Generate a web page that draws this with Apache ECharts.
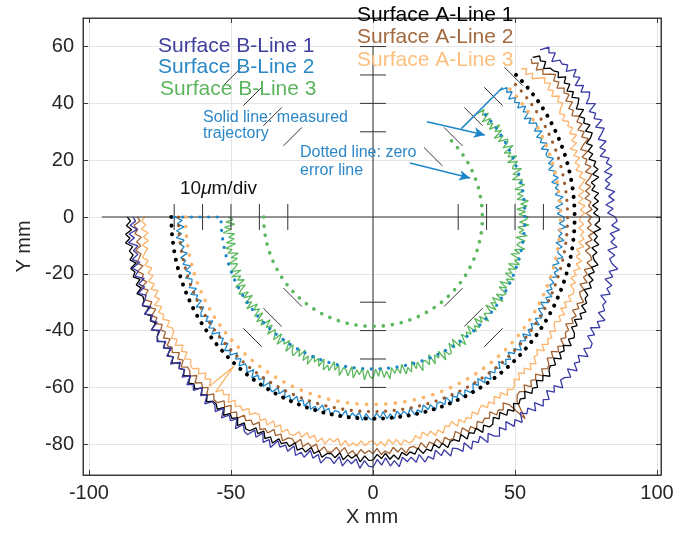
<!DOCTYPE html>
<html>
<head>
<meta charset="utf-8">
<script src="https://cdn.jsdelivr.net/npm/echarts@6/dist/echarts.min.js"></script>
<style>
html,body{margin:0;padding:0;background:#fff}
#c{width:679px;height:534px}
</style>
</head>
<body>
<div id="c"></div>
<script>
// Cartesian frame (mm), equal scale on both axes
const xMin = -102.1, xMax = 101.4, yMin = -90.85, yMax = 70.07;
const xTicks = [-100, -50, 0, 50, 100];
const yTicks = [-80, -60, -40, -20, 0, 20, 40, 60];

// Polar sampling angles in degrees (counter-clockwise from +X): west, round the bottom, up to north-east
const angles = [];
for (let a = -180; a <= 45; a += 1) angles.push(a);

// Measured trajectories: plotted radius (mm) at each angle
const rA1 = [
86.5,85.4,86.9,85.1,87.3,85.9,87.6,85.3,86.6,85.5,
86.9,85.0,87.2,86.0,87.0,84.9,86.7,85.4,87.4,85.7,
85.8,87.0,85.0,87.3,85.5,86.5,85.1,87.5,85.4,86.9,
87.4,85.4,86.9,85.1,87.3,85.9,87.6,85.3,86.6,85.5,
87.1,85.2,87.4,86.2,87.2,85.1,86.9,85.6,87.6,85.9,
85.9,87.1,85.1,87.4,85.6,86.6,85.2,87.6,85.5,87.0,
86.9,84.9,86.4,84.6,86.8,85.4,87.1,84.8,86.1,85.0,
86.0,84.1,86.3,85.1,86.1,84.0,85.8,84.5,86.5,84.8,
84.6,85.8,83.8,86.1,84.3,85.3,83.9,86.3,84.2,85.7,
85.6,83.6,85.1,83.3,85.5,84.1,85.8,83.5,84.8,83.7,
84.8,82.9,85.1,83.9,84.9,82.8,84.6,83.3,85.3,83.6,
83.4,84.6,82.6,84.9,83.1,84.1,82.7,85.1,83.0,84.5,
84.3,82.3,83.8,82.0,84.2,82.8,84.5,82.2,83.5,82.4,
83.3,81.4,83.6,82.4,83.4,81.3,83.1,81.8,83.8,82.1,
81.5,82.7,80.7,83.0,81.2,82.2,80.8,83.2,81.1,82.6,
81.9,79.9,81.4,79.6,81.8,80.4,82.1,79.8,81.1,80.0,
80.5,78.6,80.8,79.6,80.6,78.5,80.3,79.0,81.0,79.3,
78.6,79.8,77.8,80.1,78.3,79.3,77.9,80.3,78.2,79.7,
79.7,77.7,79.2,77.4,79.6,78.2,79.9,77.6,78.9,77.8,
80.7,78.8,81.0,79.8,80.8,78.7,80.5,79.2,81.2,79.5,
81.5,82.7,80.7,83.0,81.2,82.2,80.8,83.2,81.1,82.6,
83.7,81.7,83.2,81.4,83.6,82.2,83.9,81.6,82.9,81.8,
81.5,79.6,81.8,80.6,81.6,79.5];
const rA2 = [
83.0,82.0,84.2,83.0,84.0,81.9,83.7,82.4,84.4,82.7,
83.6,84.8,82.8,85.1,83.3,84.3,82.9,85.3,83.2,84.7,
85.4,83.4,84.9,83.1,85.3,83.9,85.6,83.3,84.6,83.5,
85.2,83.3,85.5,84.3,85.3,83.2,85.0,83.7,85.7,84.0,
84.2,85.4,83.4,85.7,83.9,84.9,83.5,85.9,83.8,85.3,
85.3,83.3,84.8,83.0,85.2,83.8,85.5,83.2,84.5,83.4,
84.5,82.6,84.8,83.6,84.6,82.5,84.3,83.0,85.0,83.3,
83.1,84.3,82.3,84.6,82.8,83.8,82.4,84.8,82.7,84.2,
84.1,82.1,83.6,81.8,84.0,82.6,84.3,82.0,83.3,82.2,
83.4,81.5,83.7,82.5,83.5,81.4,83.2,81.9,83.9,82.2,
82.0,83.2,81.2,83.5,81.7,82.7,81.3,83.7,81.6,83.1,
82.9,80.9,82.4,80.6,82.8,81.4,83.1,80.8,82.1,81.0,
81.9,80.0,82.2,81.0,82.0,79.9,81.7,89.0,82.4,80.7,
80.3,81.5,79.5,81.8,80.0,81.0,79.6,82.0,79.9,81.4,
80.9,78.9,80.4,78.6,80.8,79.4,81.1,78.8,80.1,79.0,
79.5,77.6,79.8,78.6,79.6,77.5,79.3,78.0,80.0,78.3,
77.4,78.6,76.6,78.9,77.1,78.1,76.7,79.1,77.0,78.5,
77.7,75.7,77.2,75.4,77.6,76.2,77.9,75.6,76.9,75.8,
76.9,75.0,77.2,76.0,77.0,74.9,76.7,75.4,77.4,75.7,
77.3,78.5,76.5,78.8,77.0,78.0,76.6,79.0,76.9,78.4,
80.7,78.7,80.2,78.4,80.6,79.2,80.9,78.6,79.9,78.8,
81.1,79.2,81.4,80.2,81.2,79.1,80.9,79.6,81.6,79.9,
78.1,79.3,77.3,79.6,77.8,78.8];
const rA3 = [
80.3,81.5,80.0,81.7,79.4,81.1,79.6,81.8,80.1,81.4,
82.4,80.6,82.1,79.9,81.6,80.2,82.3,80.5,82.2,80.0,
81.9,80.5,82.9,80.8,82.6,81.3,82.3,80.4,82.1,80.7,
81.0,82.8,81.3,83.0,80.7,82.4,80.9,83.1,81.4,82.7,
83.0,81.2,82.7,80.5,82.2,80.8,82.9,71.8,82.8,80.6,
81.8,80.4,82.8,80.7,82.5,81.2,82.2,80.3,82.0,80.6,
80.2,82.0,80.5,82.2,79.9,81.6,80.1,82.3,80.6,81.9,
81.8,80.0,81.5,79.3,81.0,79.6,81.7,79.9,81.6,79.4,
80.4,79.0,81.4,79.3,81.1,79.8,80.8,78.9,80.6,79.2,
78.8,80.6,79.1,80.8,78.5,80.2,78.7,80.9,79.2,80.5,
80.2,78.4,79.9,77.7,79.4,78.0,80.1,78.3,80.0,77.8,
78.5,77.1,79.5,77.4,79.2,77.9,78.9,77.0,78.7,77.3,
76.5,78.3,76.8,78.5,76.2,77.9,76.4,78.6,76.9,78.2,
77.5,75.7,77.2,75.0,76.7,75.3,77.4,75.6,77.3,75.1,
75.6,74.2,76.6,74.5,76.3,75.0,76.0,74.1,75.8,74.4,
73.8,75.6,74.1,75.8,73.5,75.2,73.7,75.9,74.2,75.5,
75.3,73.5,75.0,72.8,74.5,73.1,75.2,73.4,75.1,72.9,
74.0,72.6,75.0,72.9,74.7,73.4,74.4,72.5,74.2,72.8,
72.8,74.6,73.1,74.8,72.5,74.2,72.7,74.9,73.2,74.5,
75.8,74.0,75.5,73.3,75.0,73.6,75.7,73.9,75.6,73.4,
76.3,74.9,77.3,75.2,77.0,75.7,76.7,74.8,76.5,75.1,
76.2,78.0,76.5,78.2,75.9,77.6,76.1,78.3,76.6,77.9,
76.0,74.2,75.7,73.5,75.2,73.8];
const rB1 = [
84.5,83.6,85.6,83.1,86.1,84.3,86.6,83.4,85.2,83.8,
86.1,83.6,86.6,84.9,86.3,83.4,85.8,84.1,86.9,84.5,
85.4,87.0,84.3,87.4,85.0,86.3,84.5,87.7,84.9,86.8,
87.8,85.1,87.1,84.6,87.6,85.8,88.1,84.9,86.7,85.3,
87.7,85.2,88.2,86.5,87.9,85.0,87.4,85.7,88.5,86.1,
86.6,88.2,85.5,88.6,86.2,87.5,85.7,88.9,86.1,88.0,
88.5,85.8,87.8,85.3,88.3,86.5,88.8,85.6,87.4,86.0,
87.8,85.3,88.3,86.6,88.0,85.1,87.5,85.8,88.6,86.2,
86.3,87.9,85.2,88.3,85.9,87.2,85.4,88.6,85.8,87.7,
88.1,85.4,87.4,84.9,87.9,86.1,88.4,85.2,87.0,85.6,
87.7,85.2,88.2,86.5,87.9,85.0,87.4,85.7,88.5,86.1,
86.8,88.4,85.7,88.8,86.4,87.7,85.9,89.1,86.3,88.2,
89.1,86.4,88.4,85.9,88.9,87.1,89.4,86.2,88.0,86.6,
89.1,86.6,89.6,87.9,89.3,86.4,88.8,87.1,89.9,87.5,
88.0,89.6,86.9,90.0,87.6,88.9,87.1,90.3,87.5,89.4,
89.1,86.4,88.4,85.9,88.9,87.1,89.4,86.2,88.0,86.6,
87.3,84.8,87.8,86.1,87.5,84.6,87.0,85.3,88.1,85.7,
84.6,86.2,83.5,86.6,84.2,85.5,83.7,86.9,84.1,86.0,
85.3,82.6,84.6,82.1,85.1,83.3,85.6,82.4,84.2,82.8,
85.5,83.0,86.0,84.3,85.7,82.8,85.2,83.5,86.3,83.9,
85.6,87.2,84.5,87.6,85.2,86.5,84.7,87.9,85.1,87.0,
88.1,85.4,87.4,84.9,87.9,86.1,88.4,85.2,87.0,85.6,
85.9,83.4,86.4,84.7,86.1,83.2];
const rB2 = [
69.7,67.2,68.9,66.7,69.3,67.7,69.6,67.0,68.6,67.3,
68.8,66.6,69.2,67.7,68.9,66.5,68.5,67.1,69.4,67.4,
67.9,69.3,67.0,69.7,67.6,68.7,67.2,69.9,67.5,69.2,
70.0,67.7,69.4,67.2,69.8,68.2,70.1,67.5,69.1,67.8,
69.9,67.7,70.3,68.8,70.0,67.6,69.6,68.2,70.5,68.5,
69.1,70.5,68.2,70.9,68.8,69.9,68.4,71.1,68.7,70.4,
71.1,68.8,70.5,68.3,70.9,69.3,71.2,68.6,70.2,68.9,
70.8,68.6,71.2,69.7,70.9,68.5,70.5,69.1,71.4,69.4,
69.7,71.1,68.8,71.5,69.4,70.5,69.0,71.7,69.3,71.0,
71.4,69.1,70.8,68.6,71.2,69.6,71.5,68.9,70.5,69.2,
70.8,68.6,71.2,69.7,70.9,68.5,70.5,69.1,71.4,69.4,
69.3,70.7,68.4,71.1,69.0,70.1,68.6,71.3,68.9,70.6,
70.6,68.3,70.0,67.8,70.4,68.8,70.7,68.1,69.7,68.4,
69.6,67.4,70.0,68.5,69.7,67.3,69.3,67.9,70.2,68.2,
67.8,69.2,66.9,69.6,67.5,68.6,67.1,69.8,67.4,69.1,
68.9,66.6,68.3,66.1,68.7,67.1,69.0,66.4,68.0,66.7,
67.8,65.6,68.2,66.7,67.9,65.5,67.5,66.1,68.4,66.4,
66.0,67.4,65.1,67.8,65.7,66.8,65.3,68.0,65.6,67.3,
67.2,64.9,66.6,64.4,67.0,65.4,67.3,64.7,66.3,65.0,
66.3,64.1,66.7,65.2,66.4,64.0,66.0,64.6,66.9,64.9,
64.8,66.2,63.9,66.6,64.5,65.6,64.1,66.8,64.4,66.1,
66.3,64.0,65.7,63.5,66.1,64.5,66.4,63.8,65.4,64.1,
65.5,63.3,65.9,64.4,65.6,63.2];
const rB3 = [
51.0,49.3,51.8,48.7,52.4,50.2,53.0,49.1,51.3,49.5,
52.4,49.3,53.0,50.9,52.7,49.1,52.0,49.9,53.4,50.4,
51.5,53.5,50.1,54.0,51.0,52.6,50.4,54.3,50.9,53.2,
54.5,51.2,53.7,50.6,54.3,52.1,54.9,51.0,53.2,51.4,
54.5,51.4,55.1,53.0,54.8,51.2,54.1,52.0,55.5,52.5,
53.6,55.6,52.2,56.1,53.1,54.7,52.5,56.4,53.0,55.3,
56.4,53.1,55.6,52.5,56.2,54.0,56.8,52.9,55.1,53.3,
56.0,52.9,56.6,54.5,56.3,52.7,55.6,53.5,57.0,54.0,
54.6,56.6,53.2,57.1,54.1,55.7,53.5,57.4,54.0,56.3,
56.9,53.6,56.1,53.0,56.7,54.5,57.3,53.4,55.6,53.8,
55.9,52.8,56.5,54.4,56.2,52.6,55.5,53.4,56.9,53.9,
53.7,55.7,52.3,56.2,53.2,54.8,52.6,56.5,53.1,55.4,
55.2,51.9,54.4,51.3,55.0,52.8,55.6,51.7,53.9,52.1,
53.8,50.7,54.4,52.3,54.1,50.5,53.4,51.3,54.8,51.8,
51.8,53.8,50.4,54.3,51.3,52.9,50.7,54.6,51.2,53.5,
54.1,50.8,53.3,50.2,53.9,51.7,54.5,50.6,52.8,51.0,
53.6,50.5,54.2,52.1,53.9,50.3,53.2,51.1,54.6,51.6,
52.2,54.2,50.8,54.7,51.7,53.3,51.1,55.0,51.6,53.9,
54.6,51.3,53.8,50.7,54.4,52.2,55.0,51.1,53.3,51.5,
54.0,50.9,54.6,52.5,54.3,50.7,53.6,51.5,55.0,52.0,
52.5,54.5,51.1,55.0,52.0,53.6,51.4,55.3,51.9,54.2,
54.8,51.5,54.0,50.9,54.6,52.4,55.2,51.3,53.5,51.7,
54.1,51.0,54.7,52.6,54.4,50.8];

// Zero-error circles (mm)
const zeroA1 = 71.0, zeroA2 = 68.5, zeroA3 = 66.0, zeroB2 = 53.5, zeroB3 = 38.5;
const zeroB2Start = 70.0;                 // radial lead-in of the B2 zero line
const leadB2 = [[44.0, 45], [64.5, 45]];  // radial exit segment of B2 [radius, angle]

// Scale marks (10 um/div) as [radius mm, angle deg]
const scaleMarks = [
  [30,-180],[40,-180],[50,-180],[60,-180],[70,-180],
  [30,0],[40,0],[50,0],[60,0],
  [30,90],[40,90],[50,90],[60,90],
  [30,-90],[40,-90],[50,-90],[60,-90],
  [30,45],[40,45],[50,45],[60,45],[70,45],
  [40,135],[50,135],[60,135],[70,135],
  [40,-135],[50,-135],[60,-135],
  [40,-45],[50,-45],[60,-45]
];

// Centre cross (mm)
const crossH = [[-95.5, 0], [xMax, 0]];
const crossV = [[0, 60], [0, yMin]];

// Annotation arrows (mm): [from, to]
const arrows = [
  [[19.0, 33.5], [39.4, 28.9]],
  [[13.0, 19.0], [34.2, 13.7]]
];

const FONT = '"Liberation Sans", Arial, Helvetica, sans-serif';
const AX = '#3a3a3a';
const C = {A1:'#000000', A2:'#a0602f', A3:'#fdb46a', B1:'#3a3aa6', B2:'#1d86c8', B3:'#5cb85c'};
const TRACE_W = 1.3;

const chart = echarts.init(document.getElementById('c'));

function polarSeries(radii, color, width, extra) {
  return Object.assign({
    type: 'line', coordinateSystem: 'polar', showSymbol: false, symbol: 'none',
    animation: false, silent: true,
    data: angles.map((a, i) => [radii[i], a]),
    lineStyle: {color: color, width: width}
  }, extra || {});
}
function zeroSeries(r, color, dot, gap, lead) {
  const data = (lead ? [[lead, -180]] : []).concat(angles.map(a => [r, a]));
  return {
    type: 'line', coordinateSystem: 'polar', showSymbol: false, symbol: 'none',
    animation: false, silent: true, z: 5, data: data,
    lineStyle: {color: color, width: dot, type: [0.1, gap], cap: 'round'}
  };
}

const baseOption = {
  animation: false,
  grid: {left: 83, right: 18, top: 18, bottom: 59, show: true, borderColor: AX, borderWidth: 1},
  xAxis: [{
    type: 'value', min: xMin, max: xMax,
    name: 'X mm', nameLocation: 'middle', nameGap: 31,
    nameTextStyle: {fontSize: 20, color: '#262626', fontFamily: FONT},
    axisLine: {show: true, onZero: false, lineStyle: {color: AX}},
    axisTick: {show: true, inside: true, length: 5, customValues: xTicks, lineStyle: {color: AX}},
    axisLabel: {customValues: xTicks, fontSize: 20, color: '#262626', margin: 8, fontFamily: FONT},
    splitLine: {show: true, lineStyle: {color: '#e4e4e4'}}
  }, {
    type: 'value', min: xMin, max: xMax, position: 'top',
    axisLine: {show: true, onZero: false, lineStyle: {color: AX}},
    axisTick: {show: true, inside: true, length: 5, customValues: xTicks, lineStyle: {color: AX}},
    axisLabel: {show: false}, splitLine: {show: false}
  }],
  yAxis: [{
    type: 'value', min: yMin, max: yMax,
    name: 'Y mm', nameLocation: 'middle', nameGap: 46, nameRotate: 90,
    nameTextStyle: {fontSize: 20, color: '#262626', fontFamily: FONT},
    axisLine: {show: true, onZero: false, lineStyle: {color: AX}},
    axisTick: {show: true, inside: true, length: 5, customValues: yTicks, lineStyle: {color: AX}},
    axisLabel: {customValues: yTicks, fontSize: 20, color: '#262626', margin: 9, fontFamily: FONT},
    splitLine: {show: true, lineStyle: {color: '#e4e4e4'}}
  }, {
    type: 'value', min: yMin, max: yMax, position: 'right',
    axisLine: {show: true, onZero: false, lineStyle: {color: AX}},
    axisTick: {show: true, inside: true, length: 5, customValues: yTicks, lineStyle: {color: AX}},
    axisLabel: {show: false}, splitLine: {show: false}
  }],
  series: []
};
chart.setOption(baseOption);

// Polar system shares the cartesian origin and scale
const o = chart.convertToPixel({gridIndex: 0}, [0, 0]);
const e = chart.convertToPixel({gridIndex: 0}, [100, 0]);
const R = e[0] - o[0];

const textEl = (txt, x, y, color, size, extra) => ({
  type: 'text', x: x, y: y, silent: true, z: 100,
  style: Object.assign({text: txt, fill: color, font: size + 'px ' + FONT, textVerticalAlign: 'middle'}, extra || {})
});

chart.setOption({
  polar: {center: [o[0], o[1]], radius: R},
  angleAxis: {type: 'value', min: -180, max: 180, startAngle: 180, clockwise: false, show: false,
    axisLine: {show: false}, axisTick: {show: false}, axisLabel: {show: false}, splitLine: {show: false}},
  radiusAxis: {type: 'value', min: 0, max: 100, show: false,
    axisLine: {show: false}, axisTick: {show: false}, axisLabel: {show: false}, splitLine: {show: false}},
  series: [
    // centre cross, with the annotation arrows attached
    {type: 'line', data: crossH, showSymbol: false, symbol: 'none', silent: true, z: 3,
     lineStyle: {color: '#333', width: 1},
     markLine: {silent: true, symbol: ['none', 'arrow'], symbolSize: [8, 11], label: {show: false},
       lineStyle: {color: '#1d86c8', width: 1.5, type: 'solid'},
       data: arrows.map(a => [{coord: a[0]}, {coord: a[1]}])}},
    {type: 'line', data: crossV, showSymbol: false, symbol: 'none', silent: true, z: 3,
     lineStyle: {color: '#333', width: 1}},
    // scale marks
    {type: 'custom', coordinateSystem: 'polar', silent: true, z: 3, data: scaleMarks,
     renderItem: function (params, api) {
       const p = api.coord([api.value(0), api.value(1)]);
       const t = api.value(1) * Math.PI / 180;
       const tx = Math.sin(t), ty = Math.cos(t), h = 13;
       return {type: 'line', shape: {x1: p[0] - h * tx, y1: p[1] - h * ty, x2: p[0] + h * tx, y2: p[1] + h * ty},
               style: {stroke: '#333', lineWidth: 1}};
     }},
    // measured trajectories
    polarSeries(rA3, C.A3, TRACE_W, {z: 2}),
    polarSeries(rA2, C.A2, TRACE_W, {z: 2}),
    polarSeries(rA1, C.A1, TRACE_W, {z: 2}),
    polarSeries(rB1, C.B1, TRACE_W, {z: 2}),
    polarSeries(rB2, C.B2, TRACE_W, {z: 2}),
    polarSeries(rB3, C.B3, TRACE_W, {z: 2}),
    {type: 'line', coordinateSystem: 'polar', showSymbol: false, symbol: 'none', silent: true, z: 4,
     data: leadB2, lineStyle: {color: C.B2, width: 1.5}},
    // zero-error lines
    zeroSeries(zeroA3, '#fdb46a', 3.6, 9.5),
    zeroSeries(zeroA2, '#9a5a2c', 3.2, 8.5),
    zeroSeries(zeroA1, '#000000', 4, 8.5),
    zeroSeries(zeroB2, '#1d86c8', 3.2, 8.5, zeroB2Start),
    zeroSeries(zeroB3, '#5cb85c', 3.6, 9)
  ],
  graphic: [
    textEl('Surface A-Line 1', 357, 15, '#000000', 21),
    textEl('Surface A-Line 2', 357, 37, '#a36a3f', 21),
    textEl('Surface A-Line 3', 357, 60, '#fdbf7d', 21),
    textEl('Surface B-Line 1', 158, 46, '#3f3f9f', 21),
    textEl('Surface B-Line 2', 158, 67, '#2a88c6', 21),
    textEl('Surface B-Line 3', 160, 89, '#5db55d', 21),
    textEl('Solid line: measured', 203, 118, '#2b87c8', 16),
    textEl('trajectory', 203, 134, '#2b87c8', 16),
    textEl('Dotted line: zero', 300, 153, '#2b87c8', 16),
    textEl('error line', 300, 171, '#2b87c8', 16),
    textEl('10{i|\u03bc}m/div', 180, 189, '#111', 19, {rich: {i: {fontStyle: 'italic', font: 'italic 19px ' + FONT, fill: '#111'}}})
  ]
});
</script>
</body>
</html>
